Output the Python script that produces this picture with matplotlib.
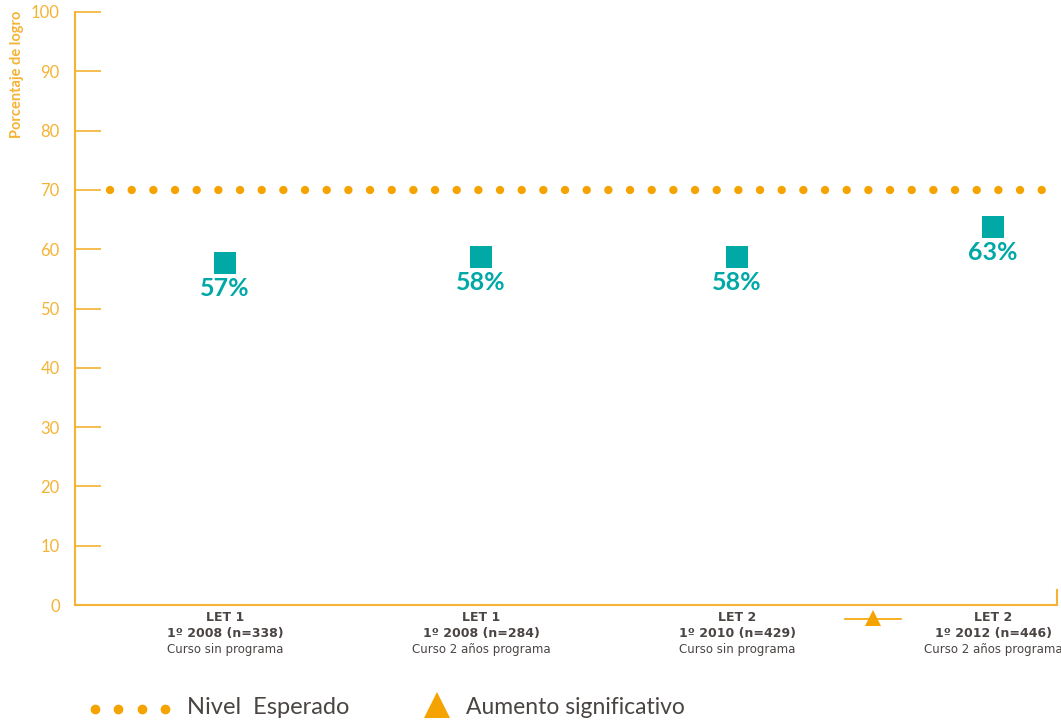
import matplotlib
matplotlib.use("Agg")
import matplotlib.pyplot as plt
from matplotlib.lines import Line2D

plt.rcParams['font.family'] = ['Lato', 'DejaVu Sans']

# ---- data ----
cat_line1 = ["LET 1", "LET 1", "LET 2", "LET 2"]
cat_line2 = ["1º 2008 (n=338)", "1º 2008 (n=284)", "1º 2010 (n=429)", "1º 2012 (n=446)"]
cat_line3 = ["Curso sin programa", "Curso 2 años programa", "Curso sin programa", "Curso 2 años programa"]
values = [57.7, 58.7, 58.7, 63.7]
value_labels = ["57%", "58%", "58%", "63%"]
expected_level = 70
yticks = [0, 10, 20, 30, 40, 50, 60, 70, 80, 90, 100]
signif_pos = 2.53  # position of the "aumento significativo" mark between groups 3 and 4

ORANGE_AX = "#F5B335"
ORANGE = "#F5A300"
TEAL = "#00A8A6"
GRAY = "#4A4543"

W, H = 1061, 725
fig = plt.figure(figsize=(W / 100, H / 100), dpi=100)
ax = fig.add_axes([75 / W, 1 - 605 / H, (1057 - 75) / W, (605 - 12) / H])

x = list(range(len(values)))
ax.set_xlim(-0.586, 3.25)
ax.set_ylim(0, 100)

# expected level dotted line
ax.plot([-0.45, 3.26], [expected_level, expected_level], linestyle=(0, (0.01, 2.59)),
        color=ORANGE, linewidth=6, dash_capstyle='round',
        clip_on=False, zorder=2)

# markers
ax.scatter(x, values, marker='s', s=260, color=TEAL, zorder=3, linewidths=0)
for xi, v, lab in zip(x, values, value_labels):
    ax.annotate(lab, (xi, v), xytext=(0, -10), textcoords='offset points',
                ha='center', va='top', color=TEAL, fontsize=18, fontweight='bold')

# spines
for s in ['top', 'right']:
    ax.spines[s].set_visible(False)
ax.spines['left'].set_color(ORANGE_AX)
ax.spines['bottom'].set_color(ORANGE_AX)
ax.spines['left'].set_linewidth(1.5)
ax.spines['bottom'].set_linewidth(1.5)

ax.set_yticks(yticks)
ax.set_yticklabels([str(t) for t in yticks])
ax.tick_params(axis='y', direction='in', length=19, width=1.2, color=ORANGE_AX,
               labelcolor=ORANGE_AX, labelsize=12, pad=11)
ax.set_xticks(x)
ax.set_xticklabels([""] * len(x))
ax.tick_params(axis='x', length=0)

# right end tick
ax.plot([3.25, 3.25], [0, 2.5], color=ORANGE_AX, lw=1.5, clip_on=False)

# category labels
CAT_FONT = ['DejaVu Sans']
for xi, l1, l2, l3 in zip(x, cat_line1, cat_line2, cat_line3):
    ax.annotate(l1, (xi, 0), xytext=(0, -4), textcoords='offset points', ha='center',
                va='top', fontsize=9, fontweight='bold', color=GRAY, family=CAT_FONT,
                annotation_clip=False)
    ax.annotate(l2, (xi, 0), xytext=(0, -15.5), textcoords='offset points', ha='center',
                va='top', fontsize=9, fontweight='bold', color=GRAY, family=CAT_FONT,
                annotation_clip=False)
    ax.annotate(l3, (xi, 0), xytext=(0, -27.5), textcoords='offset points', ha='center',
                va='top', fontsize=8.5, color=GRAY, family=CAT_FONT, annotation_clip=False)

# significance marker
ax.plot([signif_pos - 0.11, signif_pos + 0.11], [-2.4, -2.4], color=ORANGE, lw=1.2, clip_on=False)
ax.plot([signif_pos], [-2.2], marker='^', markersize=12, color=ORANGE, clip_on=False,
        markeredgewidth=0)

# y label
fig.text(17 / W, 1 - 11 / H, "Porcentaje de logro", rotation=90, ha='center', va='top',
         color=ORANGE_AX, fontsize=10.5, fontweight='bold')

# legend
for px in [95, 118, 142, 165]:
    fig.add_artist(Line2D([px / W], [1 - 709 / H], linestyle='none', marker='o',
                          markersize=7, color=ORANGE, markeredgewidth=0))
fig.text(187 / W, 1 - 708 / H, "Nivel  Esperado", ha='left', va='center', fontsize=17, color=GRAY)
fig.add_artist(Line2D([437 / W], [1 - 705 / H], linestyle='none', marker='^',
                      markersize=19, color=ORANGE, markeredgewidth=0))
fig.text(466 / W, 1 - 707 / H, "Aumento significativo", ha='left', va='center', fontsize=16.5, color=GRAY)

fig.savefig("out.png", dpi=100)
